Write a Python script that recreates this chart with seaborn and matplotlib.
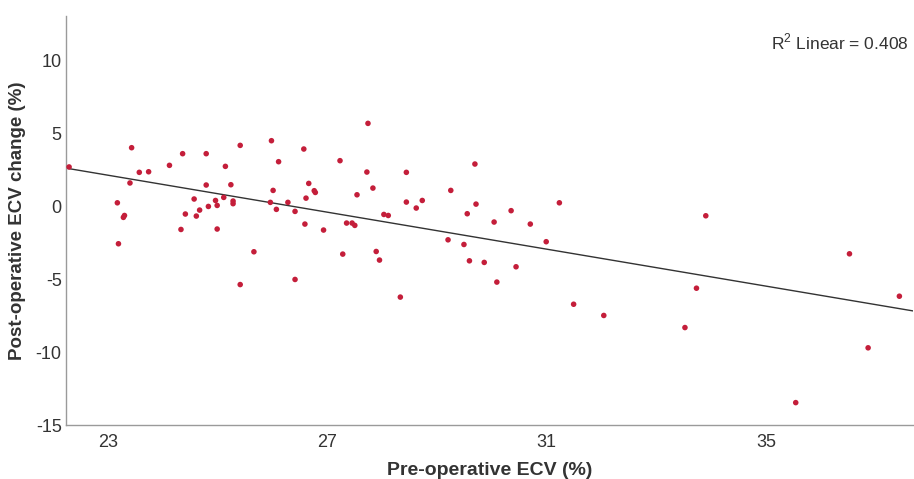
import matplotlib
matplotlib.use("Agg")
import matplotlib.pyplot as plt
import seaborn as sns
import pandas as pd
import numpy as np

pre_ecv = [22.29, 23.43, 23.17, 23.19, 23.28, 23.30, 23.40, 23.57, 23.74, 24.12,
           24.36, 24.33, 24.41, 24.57, 24.61, 24.67, 24.79, 24.79, 24.83, 24.96,
           24.99, 24.99, 25.11, 25.14, 25.24, 25.28, 25.28, 25.41, 25.41, 25.66,
           27.74, 25.98, 26.57, 26.11, 27.23, 27.72, 28.44, 26.66, 26.01, 26.76,
           26.78, 27.83, 27.54, 25.96, 26.28, 26.61, 26.07, 26.41, 28.44, 28.73,
           28.62, 26.59, 26.93, 27.35, 27.45, 27.50, 28.03, 28.11, 27.28, 27.89,
           27.95, 26.41, 28.33, 29.69, 29.25, 29.71, 30.35, 29.55, 31.23, 30.04,
           30.70, 30.99, 29.20, 29.49, 29.59, 29.86, 30.44, 30.09, 33.90, 33.73,
           31.49, 32.04, 33.52, 36.52, 37.43, 36.86, 35.54]
ecv_change = [2.73, 4.05, 0.27, -2.54, -0.73, -0.60, 1.63, 2.36, 2.40, 2.84,
              3.64, -1.56, -0.50, 0.53, -0.64, -0.23, 3.64, 1.49, 0.02, 0.43,
              0.09, -1.53, 0.64, 2.77, 1.51, 0.39, 0.21, 4.21, -5.34, -3.09,
              5.72, 4.53, 3.96, 3.09, 3.16, 2.38, 2.36, 1.60, 1.12, 1.10,
              0.98, 1.28, 0.82, 0.30, 0.30, 0.59, -0.18, -0.32, 0.32, 0.43,
              -0.09, -1.19, -1.60, -1.12, -1.12, -1.28, -0.53, -0.60, -3.25, -3.07,
              -3.66, -4.99, -6.20, 2.93, 1.12, 0.18, -0.27, -0.48, 0.27, -1.05,
              -1.19, -2.40, -2.27, -2.59, -3.71, -3.82, -4.12, -5.17, -0.62, -5.59,
              -6.69, -7.46, -8.29, -3.23, -6.14, -9.68, -13.44]
x_ticks = [23, 27, 31, 35]
y_ticks = [-15, -10, -5, 0, 5, 10]
r2_label = "R$^2$ Linear = 0.408"

df = pd.DataFrame({"pre": pre_ecv, "change": ecv_change})

sns.set_theme(style="white")
plt.rcParams['font.family'] = ['Liberation Sans', 'DejaVu Sans']
plt.rcParams['axes.unicode_minus'] = False
plt.rcParams['mathtext.fontset'] = 'custom'
plt.rcParams['mathtext.rm'] = 'Liberation Sans'

fig = plt.figure(figsize=(9.14, 4.79), dpi=100)
ax = fig.add_axes([0.072, 0.112, 0.927, 0.855])

xlim = (22.23, 37.68)
ylim = (-15, 13.1)

sns.regplot(data=df, x="pre", y="change", ax=ax, ci=None, truncate=False,
            scatter_kws=dict(s=16, color="#c41e3a", edgecolor="none", alpha=1, zorder=3),
            line_kws=dict(color="#333333", lw=1.0, zorder=2))
ax.set_xlim(xlim)
ax.set_ylim(ylim)

ax.set_xticks(x_ticks)
ax.set_yticks(y_ticks)
ax.tick_params(axis="both", labelsize=13, colors="#333333", length=0)
ax.tick_params(axis="x", pad=6)
ax.tick_params(axis="y", pad=3)
for s in ["top", "right"]:
    ax.spines[s].set_visible(False)
for s in ["left", "bottom"]:
    ax.spines[s].set_color("#9a9a9a")
    ax.spines[s].set_linewidth(1.0)

ax.set_xlabel("Pre-operative ECV (%)", fontsize=14, fontweight="bold", color="#333333", labelpad=8)
ax.set_ylabel("Post-operative ECV change (%)", fontsize=13.5, fontweight="bold", color="#333333", labelpad=7)

ax.text(0.995, 0.935, r2_label, transform=ax.transAxes, ha="right", va="center",
        fontsize=12.5, color="#333333")

fig.savefig("out.png", dpi=100)
